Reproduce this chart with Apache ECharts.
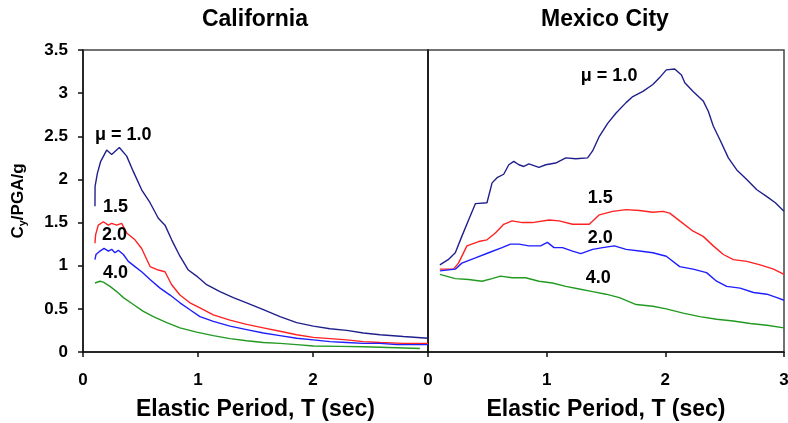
<!DOCTYPE html>
<html>
<head>
<meta charset="utf-8">
<script src="https://cdn.jsdelivr.net/npm/echarts@6/dist/echarts.min.js"></script>
<style>html,body{margin:0;padding:0;background:#fff}#c{width:788px;height:423px}</style>
</head>
<body>
<div id="c"></div>
<script>
var panelTitles = ['California', 'Mexico City'];
var xTicks = [0, 1, 2, 3];
var yTicks = [0, 0.5, 1, 1.5, 2, 2.5, 3, 3.5];
var seriesNames = ['μ = 1.0', '1.5', '2.0', '4.0'];

var cal10 = [[0.104,1.69],[0.105,1.92],[0.125,2.07],[0.154,2.21],[0.206,2.34],[0.249,2.29],[0.316,2.37],[0.38,2.27],[0.438,2.09],[0.51,1.88],[0.583,1.73],[0.655,1.55],[0.713,1.47],[0.771,1.30],[0.843,1.11],[0.916,0.95],[0.988,0.88],[1.075,0.78],[1.191,0.70],[1.307,0.63],[1.423,0.57],[1.568,0.49],[1.713,0.41],[1.858,0.34],[2.003,0.30],[2.148,0.27],[2.293,0.25],[2.438,0.22],[2.583,0.20],[2.786,0.18],[3.0,0.16]];
var cal15 = [[0.104,1.26],[0.11,1.36],[0.133,1.47],[0.177,1.51],[0.22,1.47],[0.249,1.49],[0.293,1.47],[0.336,1.49],[0.38,1.38],[0.452,1.30],[0.51,1.20],[0.583,0.99],[0.655,0.95],[0.713,0.93],[0.771,0.78],[0.843,0.66],[0.93,0.57],[1.017,0.51],[1.133,0.43],[1.278,0.37],[1.423,0.32],[1.568,0.28],[1.713,0.24],[1.858,0.20],[2.003,0.17],[2.148,0.155],[2.293,0.14],[2.438,0.12],[2.583,0.11],[2.786,0.10],[3.0,0.10]];
var cal20 = [[0.104,1.07],[0.113,1.13],[0.148,1.17],[0.183,1.20],[0.22,1.17],[0.249,1.19],[0.278,1.15],[0.307,1.18],[0.351,1.13],[0.394,1.05],[0.452,0.99],[0.51,0.93],[0.583,0.84],[0.67,0.74],[0.757,0.66],[0.843,0.57],[0.93,0.49],[1.017,0.41],[1.133,0.355],[1.278,0.30],[1.423,0.26],[1.568,0.22],[1.713,0.19],[1.858,0.16],[2.003,0.14],[2.148,0.12],[2.293,0.11],[2.438,0.10],[2.583,0.10],[2.728,0.085],[3.0,0.085]];
var cal40 = [[0.104,0.80],[0.148,0.82],[0.177,0.81],[0.235,0.76],[0.293,0.70],[0.351,0.63],[0.438,0.55],[0.525,0.47],[0.612,0.41],[0.728,0.34],[0.843,0.28],[0.988,0.23],[1.133,0.19],[1.278,0.155],[1.423,0.13],[1.568,0.11],[1.713,0.10],[1.858,0.085],[2.003,0.07],[2.235,0.065],[2.438,0.06],[2.728,0.05],[2.93,0.04]];

var mex10 = [[0.10,1.01],[0.17,1.07],[0.23,1.15],[0.285,1.34],[0.342,1.53],[0.40,1.72],[0.497,1.73],[0.54,1.96],[0.582,2.02],[0.638,2.06],[0.681,2.17],[0.723,2.21],[0.766,2.17],[0.808,2.15],[0.85,2.18],[0.935,2.14],[0.992,2.17],[1.076,2.19],[1.161,2.25],[1.246,2.24],[1.345,2.25],[1.387,2.33],[1.444,2.50],[1.514,2.65],[1.585,2.77],[1.669,2.89],[1.726,2.96],[1.811,3.02],[1.895,3.10],[1.952,3.18],[2.008,3.27],[2.079,3.28],[2.136,3.21],[2.164,3.12],[2.234,3.02],[2.319,2.91],[2.362,2.79],[2.404,2.62],[2.46,2.46],[2.531,2.25],[2.602,2.11],[2.686,2.00],[2.771,1.88],[2.856,1.80],[2.927,1.73],[3.0,1.63]];
var mex15 = [[0.10,0.96],[0.215,0.96],[0.257,1.03],[0.328,1.23],[0.427,1.28],[0.497,1.30],[0.568,1.38],[0.638,1.48],[0.709,1.52],[0.794,1.50],[0.879,1.50],[1.02,1.53],[1.105,1.52],[1.218,1.48],[1.359,1.48],[1.444,1.59],[1.556,1.63],[1.669,1.65],[1.782,1.64],[1.895,1.62],[1.98,1.63],[2.037,1.61],[2.121,1.52],[2.234,1.40],[2.319,1.34],[2.404,1.23],[2.489,1.13],[2.573,1.07],[2.686,1.05],[2.799,1.01],[2.912,0.96],[3.0,0.90]];
var mex20 = [[0.10,0.94],[0.23,0.96],[0.285,1.03],[0.40,1.09],[0.511,1.15],[0.624,1.21],[0.695,1.25],[0.766,1.25],[0.85,1.23],[0.949,1.23],[1.006,1.27],[1.062,1.21],[1.133,1.21],[1.218,1.17],[1.288,1.14],[1.387,1.19],[1.472,1.21],[1.571,1.23],[1.669,1.19],[1.782,1.17],[1.895,1.15],[2.008,1.11],[2.121,0.99],[2.234,0.96],[2.347,0.92],[2.432,0.82],[2.517,0.76],[2.63,0.74],[2.743,0.69],[2.856,0.67],[2.941,0.63],[3.0,0.60]];
var mex40 = [[0.10,0.90],[0.23,0.85],[0.342,0.84],[0.455,0.82],[0.54,0.85],[0.61,0.88],[0.709,0.86],[0.822,0.86],[0.935,0.82],[1.048,0.80],[1.161,0.76],[1.274,0.73],[1.387,0.70],[1.5,0.67],[1.613,0.63],[1.754,0.55],[1.895,0.53],[2.008,0.50],[2.15,0.45],[2.291,0.41],[2.432,0.38],[2.573,0.36],[2.715,0.33],[2.856,0.31],[3.0,0.28]];

// annotation anchor points (data units) for the curve labels
var calLabelPos = [[0.104,2.51],[0.174,1.68],[0.165,1.36],[0.174,0.915]];
var mexLabelPos = [[1.288,3.20],[1.347,1.78],[1.347,1.32],[1.33,0.86]];

var colors = ['#20208c', '#ff2222', '#1e1eff', '#229a22'];
var FONT = '"Liberation Sans", Arial, sans-serif';
var TXT = '#000';

var chart = echarts.init(document.getElementById('c'), null, {renderer: 'canvas'});

function xAxisCfg(gi, showMax) {
  return {
    type: 'value', gridIndex: gi, min: 0, max: 3, interval: 1,
    name: 'Elastic Period, T (sec)', nameLocation: 'middle', nameGap: 46,
    nameTextStyle: {fontFamily: FONT, fontWeight: 'bold', fontSize: 23, color: TXT},
    axisLine: {show: true, onZero: false, lineStyle: {color: '#111', width: 1.5}},
    axisTick: {show: true, inside: false, length: 5, lineStyle: {color: '#111', width: 1.5}},
    axisLabel: {show: true, margin: 20, showMaxLabel: showMax, fontFamily: FONT, fontWeight: 'bold', fontSize: 17, color: TXT,
      formatter: function (v) { return xTicks.indexOf(v) >= 0 ? String(v) : ''; }},
    splitLine: {show: false}
  };
}

var seriesList = [];
var calData = [cal10, cal15, cal20, cal40];
var mexData = [mex10, mex15, mex20, mex40];
calData.forEach(function (d, i) {
  seriesList.push({type: 'line', xAxisIndex: 0, yAxisIndex: 0, data: d, showSymbol: false, symbol: 'none',
    lineStyle: {color: colors[i], width: 1.4}, z: 3, animation: false});
});
mexData.forEach(function (d, i) {
  seriesList.push({type: 'line', xAxisIndex: 1, yAxisIndex: 1, data: d, showSymbol: false, symbol: 'none',
    lineStyle: {color: colors[i], width: 1.4}, z: 3, animation: false});
});
function labelSeries(pos, gi) {
  return {
    type: 'scatter', xAxisIndex: gi, yAxisIndex: gi, symbolSize: 0, animation: false, silent: true, z: 5,
    itemStyle: {opacity: 1},
    data: pos.map(function (p, i) { return {value: p, name: seriesNames[i]}; }),
    label: {show: true, position: 'right', distance: 0, formatter: '{b}', opacity: 1,
      fontFamily: FONT, fontWeight: 'bold', fontSize: 18, color: TXT}
  };
}
seriesList.push(labelSeries(calLabelPos, 0));
seriesList.push(labelSeries(mexLabelPos, 1));

var option = {
  backgroundColor: '#fff',
  animation: false,
  grid: [
    {left: 83, right: 360, top: 50, bottom: 71, show: true, borderColor: '#444', borderWidth: 1.5, backgroundColor: 'transparent', containLabel: false, outerBoundsMode: 'none'},
    {left: 428, right: 4, top: 50, bottom: 71, show: true, borderColor: '#444', borderWidth: 1.5, backgroundColor: 'transparent', containLabel: false, outerBoundsMode: 'none'}
  ],
  graphic: [
    {type: 'text', x: 255, y: 8, style: {text: panelTitles[0], font: 'bold 23px ' + FONT, fill: TXT, textAlign: 'center'}},
    {type: 'text', x: 605, y: 8, style: {text: panelTitles[1], font: 'bold 23px ' + FONT, fill: TXT, textAlign: 'center'}}
  ],
  xAxis: [xAxisCfg(0, false), xAxisCfg(1, true)],
  yAxis: [
    {type: 'value', gridIndex: 0, min: 0, max: 3.5, interval: 0.5,
      name: '{a|C}{s|y}{a|/PGA/g}', nameLocation: 'middle', nameGap: 55, nameRotate: 90,
      nameTextStyle: {rich: {
        a: {fontFamily: FONT, fontWeight: 'bold', fontSize: 17, color: TXT},
        s: {fontFamily: FONT, fontWeight: 'bold', fontSize: 11, color: TXT, verticalAlign: 'bottom', padding: [8, 0, 0, 0]}
      }},
      axisLine: {show: true, lineStyle: {color: '#111', width: 1.5}},
      axisTick: {show: true, inside: false, length: 5, lineStyle: {color: '#111', width: 1.5}},
      axisLabel: {show: true, margin: 15, fontFamily: FONT, fontWeight: 'bold', fontSize: 17, color: TXT,
        formatter: function (v) { return String(v); }},
      splitLine: {show: false}},
    {type: 'value', gridIndex: 1, min: 0, max: 3.5, interval: 0.5,
      axisLine: {show: true, lineStyle: {color: '#111', width: 1.5}},
      axisTick: {show: false}, axisLabel: {show: false}, splitLine: {show: false}}
  ],
  series: seriesList
};
chart.setOption(option);
</script>
</body>
</html>
